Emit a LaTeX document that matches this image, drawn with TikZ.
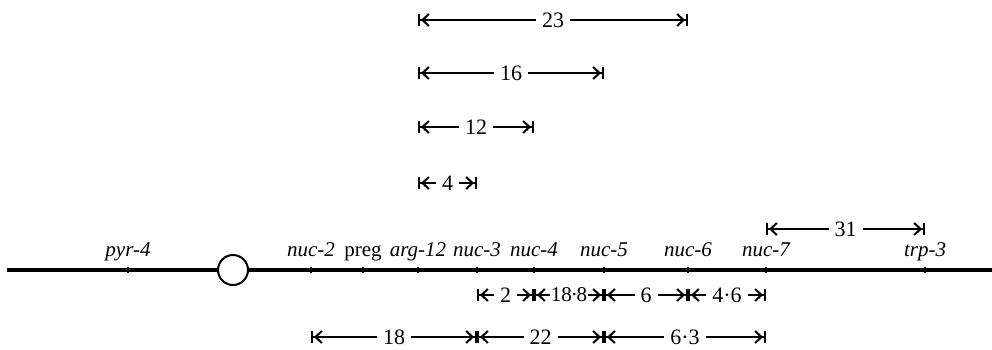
\documentclass[tikz,border=0pt]{standalone}
\usepackage{fontspec}
\setmainfont{Liberation Serif}
\usetikzlibrary{arrows.meta,positioning}

\begin{document}
\begin{tikzpicture}[x=0.5pt,y=-0.5pt,
  chrom/.style={line width=2.2pt},
  locmark/.style={line width=1pt},
  dim/.style={line width=0.75pt,
    {Bar[width=6pt,line width=0.9pt]Straight Barb[length=3.2pt,width=6pt,line width=1pt,sep=0.6pt]}-{Straight Barb[length=3.2pt,width=6pt,line width=1pt,sep=0.6pt]Bar[width=6pt,line width=0.9pt]}},
  num/.style={fill=white,inner xsep=3pt,inner ysep=1pt,font=\fontsize{11}{13}\selectfont},
  locus/.style={font=\fontsize{10.5}{12}\selectfont\itshape,anchor=base,inner sep=0pt}]
  \useasboundingbox (0,0) rectangle (992,349);

  % loci along the linkage group
  \coordinate (left) at (7,270);
  \coordinate (right) at (992,270);
  \coordinate (pyr4) at (128,270);
  \coordinate (nuc2) at (311,270);
  \coordinate (preg) at (363,270);
  \coordinate (arg12) at (418,270);
  \coordinate (nuc3) at (477,270);
  \coordinate (nuc4) at (534,270);
  \coordinate (nuc5) at (604,270);
  \coordinate (nuc6) at (688,270);
  \coordinate (nuc7) at (766,270);
  \coordinate (trp3) at (925,270);

  \draw[chrom] (left) -- (right);
  \foreach \l in {pyr4,nuc2,preg,arg12,nuc3,nuc4,nuc5,nuc6,nuc7,trp3}
    \draw[locmark] ([yshift=-1.6pt]\l) -- ([yshift=1.6pt]\l);
  \node[circle,draw,fill=white,line width=1pt,minimum size=15pt,inner sep=0pt] (cen) at (233,270) {};

  \node[locus] (lpyr4) at (128,256) {pyr-4};
  \node[locus,font=\fontsize{10.5}{12}\selectfont] (lpreg) at (363,256) {preg};
  \node[locus] (lnuc2) at (311,256) {nuc-2};
  \node[locus] (larg12) at (418,256) {arg-12};
  \node[locus] (lnuc3) at (477,256) {nuc-3};
  \node[locus] (lnuc4) at (534,256) {nuc-4};
  \node[locus] (lnuc5) at (604,256) {nuc-5};
  \node[locus] (lnuc6) at (688,256) {nuc-6};
  \node[locus] (lnuc7) at (766,256) {nuc-7};
  \node[locus] (ltrp3) at (925,256) {trp-3};

  % rows of distances
  \coordinate (r23) at (0,20);
  \coordinate (r16) at (0,73);
  \coordinate (r12) at (0,127);
  \coordinate (r4) at (0,183);
  \coordinate (r31) at (0,229);
  \coordinate (rlo) at (0,295);
  \coordinate (rbot) at (0,337);

  \draw[dim] (arg12 |- r23) -- node[num] {23} (nuc6 |- r23);
  \draw[dim] (arg12 |- r16) -- node[num] {16} (nuc5 |- r16);
  \draw[dim] (arg12 |- r12) -- node[num] {12} (nuc4 |- r12);
  \draw[dim] (arg12 |- r4) -- node[num] {4} (nuc3 |- r4);
  \draw[dim] (nuc7 |- r31) -- node[num] {31} (trp3 |- r31);

  \draw[dim] (nuc3 |- rlo) -- node[num] {2} (nuc4 |- rlo);
  \draw[dim] (nuc4 |- rlo) -- node[num,inner xsep=0.3pt,font=\fontsize{10.5}{12}\selectfont] {18\kern-0.6pt·\kern-0.6pt8} (nuc5 |- rlo);
  \draw[dim] (nuc5 |- rlo) -- node[num] {6} (nuc6 |- rlo);
  \draw[dim] (nuc6 |- rlo) -- node[num] {4·6} (nuc7 |- rlo);

  \draw[dim] (nuc2 |- rbot) -- node[num] {18} (nuc3 |- rbot);
  \draw[dim] (nuc3 |- rbot) -- node[num] {22} (nuc5 |- rbot);
  \draw[dim] (nuc5 |- rbot) -- node[num] {6·3} (nuc7 |- rbot);
\end{tikzpicture}
\end{document}
